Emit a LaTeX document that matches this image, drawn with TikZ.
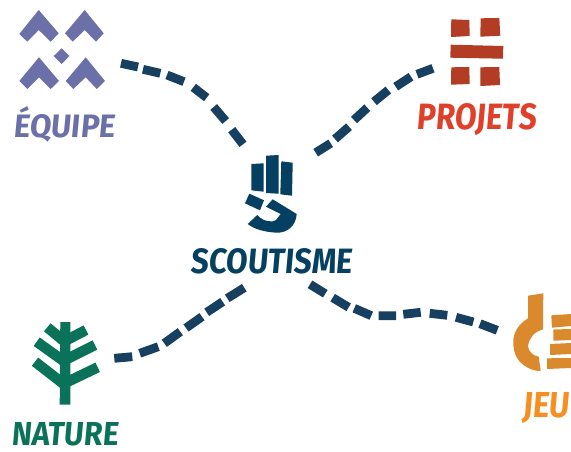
\documentclass[tikz,border=0pt]{standalone}
\usepackage{fontspec}
\usepackage{graphicx}
\setmainfont{Fira Sans}
\newfontfamily\labfont{Fira Sans}[BoldFeatures={FakeSlant=0.1}]
\definecolor{equipe}{HTML}{6B71A8}
\definecolor{projets}{HTML}{B23C24}
\definecolor{projetst}{HTML}{E0402A}
\definecolor{scout}{HTML}{053F61}
\definecolor{nature}{HTML}{0A7258}
\definecolor{jeu}{HTML}{DA8A2C}
\definecolor{jeut}{HTML}{F78E22}
\definecolor{link}{HTML}{173F60}
\tikzset{
  linkline/.style={draw=link,line width=8.8pt},
  lab/.style={anchor=base west,inner sep=0pt,font=\labfont\bfseries},
  branch/.style={draw=nature,line width=10.4pt}
}
\newcommand{\fitlab}[3]{\resizebox{#1pt}{#2pt}{#3}}
\begin{document}
\begin{tikzpicture}[x=1pt,y=-1pt]
\useasboundingbox (0,0) rectangle (571,451);
\clip (0,0) rectangle (571,451);
% ---- anchors
\coordinate (eqEnd) at (121,63.3);
\coordinate (hubNW) at (243,144.3);
\coordinate (prEnd) at (433,68.3);
\coordinate (hubNE) at (315.7,152.7);
\coordinate (naEnd) at (114.3,358.3);
\coordinate (hubSW) at (244.3,287.7);
\coordinate (jeEnd) at (497.3,330.3);
\coordinate (hubSE) at (310,284.3);
% ---- connectors
\draw[linkline] (eqEnd)--(138,67) (143,69.3)--(160.3,73.3) (167,75)--(184,81.7) (193.3,87.3)--(206.7,97.7) (213.7,107)--(225.7,121) (231.7,129.7)--(hubNW);
\draw[linkline] (hubNE)--(330.7,143.3) (335,139)--(349,126.7) (354,120)--(367.3,107.7) (374,101.7)--(388.3,90) (395.7,86.7)--(411,76.7) (417,74.3)--(prEnd);
\draw[linkline] (naEnd)--(132.3,356.7) (139.7,353.3)--(158.3,346.7) (164.3,343.3)--(180.3,331.7) (186,328)--(202,316.7) (206.7,312.3)--(222.7,301.7) (227.3,298.3)--(hubSW);
\draw[linkline] (hubSE)--(325.3,293.7) (332.7,297.7)--(348.7,307.3) (354.3,308.3)--(371.3,315.7) (378.7,315.7)--(396,315.7) (403.3,314.3)--(420.7,312.3) (429.7,313.3)--(447.3,315.3) (456,317.3)--(473.3,322) (480,323.7)--(jeEnd);
% ---- equipe icon
\fill[equipe] (38.7,10)--(19.3,34)--(27.3,41.7)--(38.7,30)--(50.7,41.7)--(58.7,33.3)--cycle;
\fill[equipe] (84.7,10)--(65,33.3)--(72.7,41.7)--(84.7,30)--(96,41.7)--(103.7,33.3)--cycle;
\fill[equipe] (61.7,48.3)--(69.3,56)--(61.7,64)--(53.7,56)--cycle;
\fill[equipe] (39,57.3)--(19.3,81)--(27.3,89)--(39,77.3)--(50.7,89)--(59,81)--cycle;
\fill[equipe] (85.7,57.3)--(65.7,81)--(73.3,89)--(85.7,77.3)--(96.7,89)--(105,81)--cycle;
% ---- projets icon
\fill[projets] (451.3,19.3)--(469.3,20)--(469.7,36)--(451,37)--cycle;
\fill[projets] (480.7,18.3)--(499.3,18)--(500.3,35.7)--(480.3,36.7)--cycle;
\fill[projets] (450.7,44.7)--(503.3,46)--(503,58.7)--(450.3,57.7)--cycle;
\fill[projets] (451.3,67.3)--(469.3,67)--(469.7,84)--(451,84.7)--cycle;
\fill[projets] (480.3,67.3)--(499.3,67)--(500,85)--(480.3,86)--cycle;
% ---- scoutisme icon
\fill[scout] (251.3,164)--(263.7,163.3)--(263.7,191.7)--(251.3,190.3)--cycle;
\fill[scout] (266,155.7)--(278.7,155)--(278.7,193.7)--(266,193)--cycle;
\fill[scout] (281.3,161.3)--(292.7,162.7)--(292,195.7)--(280.3,194.3)--cycle;
\fill[scout] (249.3,193.7)--(264,200.3)--(260,210.3)--(245,203.3)--cycle;
\fill[scout] (272.7,199.3)--(296.7,214) .. controls (296,226) and (287,233) .. (276.7,232.7) .. controls (264,232) and (254,229) .. (247.7,224)--(257.3,215) .. controls (261,219) and (265,221) .. (268.3,221) .. controls (272,222) and (275,221) .. (276,220)--(280.7,214)--(266,206.7)--cycle;
% ---- nature icon
\draw[branch] (47.3,327.3)--(65,342);
\draw[branch] (86,330)--(65,341);
\draw[branch] (36.7,341.7)--(65,362);
\draw[branch] (95,345)--(65,360);
\draw[branch] (35,361.7)--(65,385);
\draw[branch] (97.7,367.3)--(65,383);
\fill[nature] (60.3,322)--(70.3,322)--(70.3,404.7)--(59.7,404.7)--cycle;
% ---- jeu icon
\fill[jeu] (528,295.7)--(543.3,293.3)--(543,329.3) .. controls (537,331) and (533,334) .. (531,338) .. controls (527,344) and (527,349) .. (531.7,353.3) .. controls (533,355) and (536,356) .. (538.7,356.7)--(540.7,371) .. controls (532,371) and (525,367) .. (520,362) .. controls (514,355) and (513,347) .. (513.3,340) .. controls (514,331) and (520,323) .. (528,318.3)--cycle;
\fill[jeu] (551.3,315.3)--(571,314)--(571,326)--(552,327.7)--cycle;
\fill[jeu] (553.3,329.5)--(571,329)--(571,340)--(553.3,340.7)--cycle;
\fill[jeu] (550,344)--(571,343)--(571,354)--(550,355)--cycle;
\fill[jeu] (547,358.3)--(571,358)--(571,368)--(547,369)--cycle;
% ---- labels
\node[lab,text=equipe] (labE) at (13,137) {\fitlab{102}{31}{ÉQUIPE}};
\node[lab,text=projetst] (labP) at (416,129) {\fitlab{120}{26}{PROJETS}};
\node[lab,text=scout] (labS) at (190,273) {\fitlab{162}{25}{SCOUTISME}};
\node[lab,text=nature] (labN) at (11,445) {\fitlab{107}{23}{NATURE}};
\node[lab,text=jeut] (labJ) at (522,417) {\fitlab{47}{25}{JEU}};
\end{tikzpicture}
\end{document}
